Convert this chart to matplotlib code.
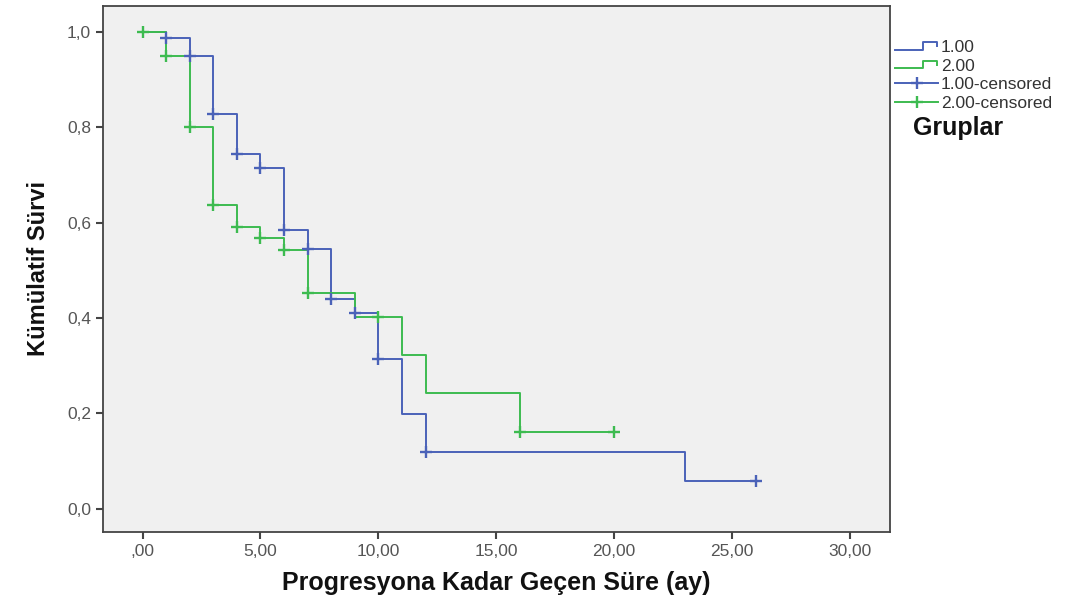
import matplotlib
matplotlib.use('Agg')
import matplotlib.pyplot as plt
from matplotlib.legend_handler import HandlerBase
from matplotlib.lines import Line2D

plt.rcParams['font.family'] = ['Liberation Sans', 'DejaVu Sans']

# group 1.00 (blue) - step survival curve
g1_time = [0, 1, 2, 3, 4, 5, 6, 7, 8, 9, 10, 11, 12, 23, 26]
g1_surv = [1.0, 0.988, 0.95, 0.829, 0.745, 0.716, 0.584, 0.545, 0.441, 0.41, 0.315, 0.199, 0.119, 0.059, 0.059]
g1_cens_time = [1, 2, 3, 4, 5, 6, 7, 8, 9, 10, 12, 26]
g1_cens_surv = [0.988, 0.95, 0.829, 0.745, 0.716, 0.584, 0.545, 0.441, 0.41, 0.315, 0.119, 0.059]

# group 2.00 (green)
g2_time = [0, 1, 2, 3, 4, 5, 6, 7, 9, 11, 12, 16, 20]
g2_surv = [1.0, 0.95, 0.80, 0.638, 0.592, 0.569, 0.543, 0.452, 0.403, 0.322, 0.243, 0.161, 0.161]
g2_cens_time = [0, 1, 2, 3, 4, 5, 6, 7, 10, 16, 20]
g2_cens_surv = [1.0, 0.95, 0.80, 0.638, 0.592, 0.569, 0.543, 0.452, 0.403, 0.161, 0.161]

x_ticks = [0, 5, 10, 15, 20, 25, 30]
x_labels = [',00', '5,00', '10,00', '15,00', '20,00', '25,00', '30,00']
y_ticks = [0.0, 0.2, 0.4, 0.6, 0.8, 1.0]
y_labels = ['0,0', '0,2', '0,4', '0,6', '0,8', '1,0']

blue = '#4a62b8'
green = '#3dbb50'


class HandlerStep(HandlerBase):
    # little step icon like the SPSS legend
    def create_artists(self, legend, orig_handle, xdescent, ydescent,
                       width, height, fontsize, trans):
        x0 = -xdescent
        y0 = -ydescent
        xs = [x0, x0 + 0.65 * width, x0 + 0.65 * width, x0 + 0.97 * width, x0 + 0.97 * width]
        ys = [y0 + 0.2 * height, y0 + 0.2 * height, y0 + 0.8 * height, y0 + 0.8 * height, y0 + 0.5 * height]
        ln = Line2D(xs, ys, color=orig_handle.get_color(), lw=orig_handle.get_linewidth())
        ln.set_transform(trans)
        return [ln]


fig = plt.figure(figsize=(10.86, 6.06), dpi=100)
ax = fig.add_axes([103 / 1086, 1 - 532 / 606, (890 - 103) / 1086, (532 - 6) / 606])
ax.set_facecolor('#f0f0f0')

l1, = ax.plot(g1_time, g1_surv, drawstyle='steps-post', color=blue, lw=1.4)
l2, = ax.plot(g2_time, g2_surv, drawstyle='steps-post', color=green, lw=1.4)
c1, = ax.plot(g1_cens_time, g1_cens_surv, ls='none', marker='+', ms=8, mew=1.7, color=blue)
c2, = ax.plot(g2_cens_time, g2_cens_surv, ls='none', marker='+', ms=8, mew=1.7, color=green)

ax.set_xlim(-1.68, 31.7)
ax.set_ylim(-0.049, 1.055)
ax.set_xticks(x_ticks)
ax.set_xticklabels(x_labels)
ax.set_yticks(y_ticks)
ax.set_yticklabels(y_labels)
ax.tick_params(direction='out', length=5, width=1.5, color='#444444',
               labelsize=12.5, labelcolor='#555555')
for sp in ax.spines.values():
    sp.set_color('#444444')
    sp.set_linewidth(1.3)

ax.set_xlabel('Progresyona Kadar Geçen Süre (ay)', fontsize=18, fontweight='bold',
              color='#111111', labelpad=9)
ax.set_ylabel('Kümülatif Sürvi', fontsize=17, fontweight='bold', color='#111111',
              labelpad=12)

leg_c1 = Line2D([], [], color=blue, lw=1.4, marker='+', ms=9, mew=1.7)
leg_c2 = Line2D([], [], color=green, lw=1.4, marker='+', ms=9, mew=1.7)
fig.legend([l1, l2, leg_c1, leg_c2], ['1.00', '2.00', '1.00-censored', '2.00-censored'],
           handler_map={l1: HandlerStep(), l2: HandlerStep()},
           loc='upper left', bbox_to_anchor=(895 / 1086, 1 - 40 / 606),
           frameon=False, fontsize=12.5, labelcolor='#333333', numpoints=1,
           handlelength=2.5, handletextpad=0.15, labelspacing=0.2,
           borderaxespad=0, borderpad=0)
fig.text(913 / 1086, 1 - 128 / 606, 'Gruplar', fontsize=18, fontweight='bold',
         color='#111111', va='center', ha='left')

plt.savefig('out.png', dpi=100)
